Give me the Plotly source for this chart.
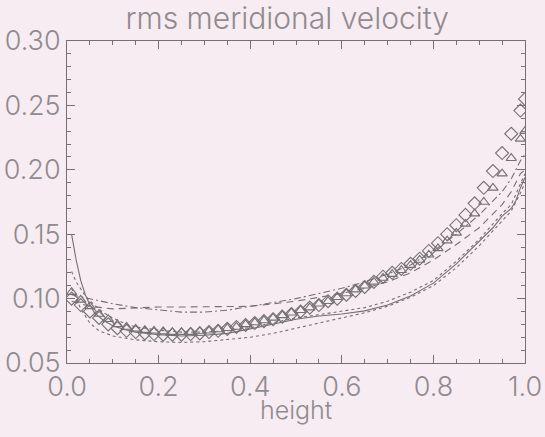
import plotly.graph_objects as go

# ---- data ----
h_sym = [0.01, 0.03, 0.05, 0.07, 0.09, 0.11, 0.13, 0.15, 0.17, 0.19,
         0.21, 0.23, 0.25, 0.27, 0.29, 0.31, 0.33, 0.35, 0.37, 0.39,
         0.41, 0.43, 0.45, 0.47, 0.49, 0.51, 0.53, 0.55, 0.57, 0.59,
         0.61, 0.63, 0.65, 0.67, 0.69, 0.71, 0.73, 0.75, 0.77, 0.79,
         0.81, 0.83, 0.85, 0.87, 0.89, 0.91, 0.93, 0.95, 0.97, 0.99, 1.0]
diamonds = [0.100, 0.095, 0.090, 0.085, 0.080, 0.077, 0.075, 0.074, 0.073, 0.0725,
            0.072, 0.072, 0.072, 0.0725, 0.073, 0.074, 0.075, 0.0765, 0.078, 0.0795,
            0.081, 0.0825, 0.084, 0.086, 0.088, 0.090, 0.093, 0.095, 0.098, 0.100,
            0.103, 0.106, 0.109, 0.113, 0.117, 0.120, 0.123, 0.127, 0.131, 0.137,
            0.143, 0.150, 0.157, 0.165, 0.174, 0.186, 0.199, 0.213, 0.228, 0.246, 0.255]
triangles = [0.105, 0.099, 0.094, 0.088, 0.084, 0.080, 0.078, 0.0765, 0.0755, 0.075,
             0.0745, 0.074, 0.074, 0.074, 0.0745, 0.075, 0.076, 0.077, 0.078, 0.080,
             0.0815, 0.083, 0.085, 0.087, 0.089, 0.091, 0.093, 0.096, 0.098, 0.101,
             0.104, 0.107, 0.110, 0.113, 0.116, 0.119, 0.122, 0.126, 0.130, 0.134,
             0.139, 0.145, 0.151, 0.158, 0.166, 0.175, 0.186, 0.197, 0.209, 0.224, 0.230]

h_solid = [0.01, 0.02, 0.03, 0.04, 0.05, 0.06, 0.08, 0.10, 0.125, 0.15, 0.2, 0.25, 0.3,
           0.35, 0.4, 0.45, 0.5, 0.55, 0.6, 0.65, 0.7, 0.75, 0.8, 0.85, 0.9, 0.93,
           0.95, 0.97, 0.98, 0.99, 1.0]
solid = [0.150, 0.130, 0.114, 0.103, 0.095, 0.089, 0.083, 0.079, 0.076, 0.074, 0.072,
         0.071, 0.0715, 0.073, 0.0765, 0.080, 0.084, 0.0865, 0.088, 0.0905, 0.095, 0.102,
         0.112, 0.127, 0.144, 0.155, 0.164, 0.170, 0.176, 0.186, 0.194]

h_dot1 = [0.01, 0.02, 0.04, 0.06, 0.08, 0.10, 0.13, 0.15, 0.2, 0.25, 0.3, 0.35, 0.4,
          0.45, 0.5, 0.55, 0.6, 0.65, 0.7, 0.75, 0.8, 0.85, 0.9, 0.95, 0.97, 0.99, 1.0]
dot1 = [0.121, 0.113, 0.102, 0.095, 0.089, 0.085, 0.080, 0.078, 0.0755, 0.074, 0.074,
        0.075, 0.0775, 0.081, 0.085, 0.0875, 0.090, 0.093, 0.098, 0.105, 0.114, 0.129,
        0.146, 0.166, 0.173, 0.190, 0.197]

h_dot2 = [0.01, 0.03, 0.05, 0.07, 0.10, 0.13, 0.15, 0.2, 0.25, 0.3, 0.35, 0.4, 0.45,
          0.5, 0.55, 0.6, 0.65, 0.7, 0.75, 0.8, 0.85, 0.9, 0.95, 0.97, 0.99, 1.0]
dot2 = [0.108, 0.092, 0.081, 0.075, 0.071, 0.069, 0.068, 0.0665, 0.066, 0.0665, 0.068,
        0.070, 0.073, 0.077, 0.081, 0.085, 0.089, 0.094, 0.101, 0.110, 0.124, 0.141,
        0.160, 0.168, 0.182, 0.190]

h_dash = [0.01, 0.05, 0.1, 0.15, 0.2, 0.25, 0.3, 0.35, 0.4, 0.45, 0.5, 0.55, 0.6, 0.65,
          0.7, 0.75, 0.8, 0.85, 0.9, 0.95, 0.97, 0.99, 1.0]
dash = [0.098, 0.094, 0.092, 0.093, 0.0935, 0.0935, 0.0935, 0.0935, 0.094, 0.096, 0.098,
        0.101, 0.104, 0.108, 0.113, 0.120, 0.130, 0.142, 0.155, 0.173, 0.183, 0.197, 0.200]

h_dashdot = [0.01, 0.05, 0.1, 0.15, 0.2, 0.25, 0.3, 0.35, 0.4, 0.45, 0.5, 0.55, 0.6,
             0.65, 0.7, 0.75, 0.8, 0.85, 0.9, 0.95, 0.97, 0.99, 1.0]
dashdot = [0.103, 0.100, 0.096, 0.093, 0.091, 0.0895, 0.0895, 0.091, 0.094, 0.097, 0.100,
           0.104, 0.108, 0.113, 0.119, 0.126, 0.137, 0.150, 0.165, 0.183, 0.193, 0.207, 0.212]

x_ticks = [0.0, 0.2, 0.4, 0.6, 0.8, 1.0]
x_ticklabels = ["0.0", "0.2", "0.4", "0.6", "0.8", "1.0"]
y_ticks = [0.05, 0.10, 0.15, 0.20, 0.25, 0.30]
y_ticklabels = ["0.05", "0.10", "0.15", "0.20", "0.25", "0.30"]
x_title = "height"
plot_title = "rms meridional velocity"

# ---- styling ----
BG = "#f7ecf2"
LINE = "#747073"
TEXT = "#8f8b8e"
FONT = "Inter, DejaVu Sans"
W = 300

fig = go.Figure()
lw = 1.1
fig.add_trace(go.Scatter(x=h_dot2, y=dot2, mode="lines",
                         line=dict(color=LINE, width=lw, dash="dot")))
fig.add_trace(go.Scatter(x=h_dot1, y=dot1, mode="lines",
                         line=dict(color=LINE, width=lw, dash="dot")))
fig.add_trace(go.Scatter(x=h_solid, y=solid, mode="lines",
                         line=dict(color=LINE, width=lw)))
fig.add_trace(go.Scatter(x=h_dash, y=dash, mode="lines",
                         line=dict(color=LINE, width=lw, dash="7px,5px")))
fig.add_trace(go.Scatter(x=h_dashdot, y=dashdot, mode="lines",
                         line=dict(color=LINE, width=lw, dash="7px,3px,2px,3px")))
fig.add_trace(go.Scatter(x=h_sym, y=triangles, mode="markers",
                         marker=dict(symbol="triangle-up-open", size=9,
                                     color=LINE, line=dict(width=1.1, color=LINE))))
fig.add_trace(go.Scatter(x=h_sym, y=diamonds, mode="markers",
                         marker=dict(symbol="diamond-open", size=10,
                                     color=LINE, line=dict(width=1.1, color=LINE))))

axis_common = dict(showline=True, linecolor=LINE, linewidth=1, mirror="ticks",
                   ticks="inside", tickcolor=LINE, ticklen=8, tickwidth=1,
                   showgrid=False, zeroline=False, automargin=False,
                   tickfont=dict(family=FONT, size=27, color=TEXT, weight=W))

fig.update_layout(
    width=545, height=437,
    paper_bgcolor=BG, plot_bgcolor=BG,
    margin=dict(l=67, r=20, t=41, b=74, autoexpand=False),
    showlegend=False,
    title=dict(text=plot_title, x=0.527, xanchor="center",
               y=0.957, yanchor="middle",
               font=dict(family=FONT, size=30, color=TEXT, weight=W)),
    xaxis=dict(range=[0, 1], tickvals=x_ticks, ticktext=x_ticklabels,
               minor=dict(dtick=0.05, ticks="inside", ticklen=4, tickcolor=LINE),
               **axis_common),
    yaxis=dict(range=[0.05, 0.30], tickvals=y_ticks, ticktext=y_ticklabels,
               minor=dict(dtick=0.01, ticks="inside", ticklen=4, tickcolor=LINE),
               **axis_common),
    annotations=[dict(text=x_title, xref="paper", yref="paper", x=0.5, y=-0.145,
                      xanchor="center", yanchor="middle", showarrow=False,
                      font=dict(family=FONT, size=25, color=TEXT, weight=W))],
)

fig.write_html("out.html")
